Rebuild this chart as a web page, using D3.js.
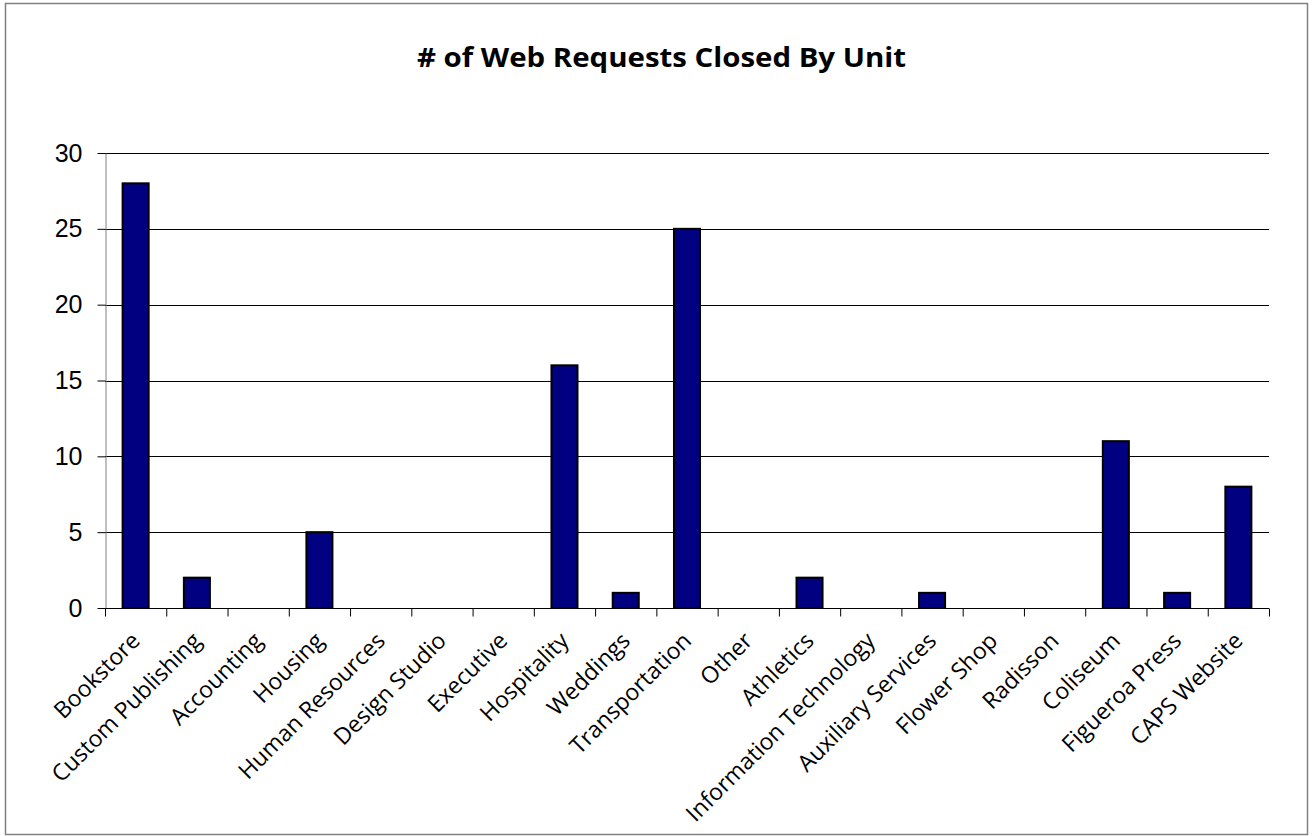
<!DOCTYPE html>
<html><head><meta charset="utf-8">
<script src="https://cdn.jsdelivr.net/npm/d3@7"></script>
<style>body{margin:0;background:#fff}svg{display:block}</style>
</head><body><svg id="c" width="1313" height="836"></svg>
<script>
const categories = ["Bookstore","Custom Publishing","Accounting","Housing","Human Resources","Design Studio","Executive","Hospitality","Weddings","Transportation","Other","Athletics","Information Technology","Auxiliary Services","Flower Shop","Radisson","Coliseum","Figueroa Press","CAPS Website"];
const values = [28,2,0,5,0,0,0,16,1,25,0,2,0,1,0,0,11,1,8];
const yTicks = [0,5,10,15,20,25,30];
const title = "# of Web Requests Closed By Unit";

const svg = d3.select("#c");
svg.append("rect").attr("x",5.5).attr("y",3.5).attr("width",1302).attr("height",831)
  .attr("fill","#fff").attr("stroke","#808080").attr("stroke-width",1.5);

const L=105, R=1269, T=153, B=608;
const x = d3.scaleBand().domain(categories).range([L,R]).paddingInner(0.575).paddingOuter(0.2875);
const y = d3.scaleLinear().domain([0,30]).range([B,T]);

// gridlines
svg.append("g").selectAll("line").data(yTicks.filter(d=>d>0)).join("line")
  .attr("x1",L).attr("x2",R).attr("y1",d=>Math.round(y(d))+0.5).attr("y2",d=>Math.round(y(d))+0.5)
  .attr("stroke","#000").attr("stroke-width",1);

// y axis
const ya = svg.append("g").attr("transform",`translate(${L+0.5},0)`)
  .call(d3.axisLeft(y).tickValues(yTicks).tickSize(8).tickPadding(15).tickSizeOuter(0));
ya.select(".domain").attr("stroke","#808080");
ya.selectAll(".tick line").attr("stroke","#000");
ya.selectAll("text").attr("font-family","Arial, 'Liberation Sans', sans-serif").attr("font-size",25).attr("fill","#000");

// bars
svg.append("g").selectAll("rect").data(values).join("rect")
  .attr("x",(d,i)=>x(categories[i])).attr("width",x.bandwidth())
  .attr("y",d=>y(d)).attr("height",d=>B-y(d))
  .attr("fill","#000080").attr("stroke","#000").attr("stroke-width",2)
  .attr("display",d=>d>0?null:"none");

// x axis
const xa = svg.append("g").attr("transform",`translate(0,${B+0.5})`);
xa.append("line").attr("x1",L).attr("x2",R).attr("stroke","#000");
xa.selectAll("line.t").data(d3.range(categories.length+1)).join("line").attr("class","t")
  .attr("x1",i=>L+i*(R-L)/categories.length+0.5).attr("x2",i=>L+i*(R-L)/categories.length+0.5)
  .attr("y1",0).attr("y2",8).attr("stroke","#000");
xa.selectAll("text").data(categories).join("text")
  .attr("transform",d=>`translate(${x(d)+x.bandwidth()/2},28) rotate(-45)`)
  .attr("text-anchor","end").attr("dy","0.35em")
  .attr("font-family","'Open Sans', sans-serif").attr("font-size",23).attr("fill","#000")
  .text(d=>d);

svg.append("text").attr("x",661.5).attr("y",67).attr("text-anchor","middle")
  .attr("font-family","'Open Sans', sans-serif").attr("font-weight","bold").attr("font-size",26)
  .attr("textLength",489).attr("lengthAdjust","spacingAndGlyphs")
  .text(title);
</script></body></html>
